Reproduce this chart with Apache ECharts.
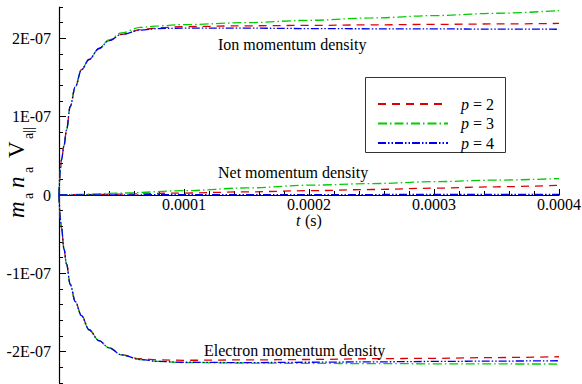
<!DOCTYPE html>
<html>
<head>
<meta charset="utf-8">
<script src="https://cdn.jsdelivr.net/npm/echarts@6/dist/echarts.min.js"></script>
<style>
html,body{margin:0;padding:0;background:#fff;}
#chart{width:582px;height:384px;}
</style>
</head>
<body>
<div id="chart"></div>
<script>
// ---- data ----
const seriesNames = ['p = 2', 'p = 3', 'p = 4'];
const tCurve = [0, 1e-6, 2e-6, 4e-6, 6e-6, 9e-6, 1.3e-5, 1.8e-5, 2.4e-5, 3.2e-5, 4e-5, 5e-5, 6.5e-5, 8e-5, 1e-4, 1.5e-4, 2e-4, 2.5e-4, 3e-4, 3.5e-4, 4e-4];
const ionP2 = [0, 0.32e-7, 0.45e-7, 0.63e-7, 0.83e-7, 1.13e-7, 1.38e-7, 1.60e-7, 1.73e-7, 1.87e-7, 1.97e-7, 2.05e-7, 2.11e-7, 2.135e-7, 2.15e-7, 2.16e-7, 2.165e-7, 2.172e-7, 2.178e-7, 2.184e-7, 2.19e-7];
const ionP3 = [0, 0.32e-7, 0.45e-7, 0.63e-7, 0.83e-7, 1.13e-7, 1.38e-7, 1.60e-7, 1.73e-7, 1.87e-7, 1.98e-7, 2.07e-7, 2.14e-7, 2.16e-7, 2.175e-7, 2.20e-7, 2.23e-7, 2.26e-7, 2.29e-7, 2.32e-7, 2.355e-7];
const ionP4 = [0, 0.32e-7, 0.45e-7, 0.63e-7, 0.83e-7, 1.13e-7, 1.38e-7, 1.60e-7, 1.73e-7, 1.87e-7, 1.97e-7, 2.05e-7, 2.105e-7, 2.125e-7, 2.13e-7, 2.13e-7, 2.125e-7, 2.122e-7, 2.12e-7, 2.118e-7, 2.116e-7];
const elecP2 = [0, -0.30e-7, -0.42e-7, -0.69e-7, -0.88e-7, -1.14e-7, -1.36e-7, -1.54e-7, -1.72e-7, -1.86e-7, -1.95e-7, -2.04e-7, -2.09e-7, -2.105e-7, -2.11e-7, -2.105e-7, -2.10e-7, -2.09e-7, -2.085e-7, -2.075e-7, -2.065e-7];
const elecP3 = [0, -0.30e-7, -0.42e-7, -0.69e-7, -0.88e-7, -1.14e-7, -1.36e-7, -1.54e-7, -1.72e-7, -1.86e-7, -1.95e-7, -2.04e-7, -2.10e-7, -2.125e-7, -2.14e-7, -2.145e-7, -2.15e-7, -2.152e-7, -2.155e-7, -2.157e-7, -2.158e-7];
const elecP4 = [0, -0.30e-7, -0.42e-7, -0.69e-7, -0.88e-7, -1.14e-7, -1.36e-7, -1.54e-7, -1.72e-7, -1.86e-7, -1.95e-7, -2.04e-7, -2.10e-7, -2.125e-7, -2.135e-7, -2.14e-7, -2.135e-7, -2.13e-7, -2.125e-7, -2.12e-7, -2.116e-7];
const tNet = [0, 2e-5, 5e-5, 1e-4, 1.5e-4, 2e-4, 2.5e-4, 3e-4, 3.5e-4, 4e-4];
const netP2 = [0, 0.005e-7, 0.012e-7, 0.025e-7, 0.04e-7, 0.055e-7, 0.07e-7, 0.087e-7, 0.105e-7, 0.124e-7];
const netP3 = [0, 0.01e-7, 0.025e-7, 0.055e-7, 0.09e-7, 0.125e-7, 0.145e-7, 0.17e-7, 0.19e-7, 0.21e-7];
const netP4 = [0, 0, 0.002e-7, 0.005e-7, 0.005e-7, 0.005e-7, 0.006e-7, 0.007e-7, 0.008e-7, 0.008e-7];
const yMajorTicks = [-2e-7, -1e-7, 0, 1e-7, 2e-7];
const annotations = ['Ion momentum density', 'Net momentum density', 'Electron momentum density'];

// ---- styles ----
const FONT = 'Liberation Serif';
const colors = ['#dd0000', '#00cc00', '#0000ee'];
const dashes = [[8, 6], [9, 3, 1.5, 3], [8, 2, 1.5, 2, 1.5, 2]];
const GRID_TOP = 7, GRID_BOTTOM = 1, H = 384;
const richS = { s: { fontFamily: FONT, fontSize: 16, color: '#000', lineHeight: 14 },
                i: { fontFamily: FONT, fontSize: 16, fontStyle: 'italic', color: '#000', lineHeight: 14 } };
const richL = { s: { fontFamily: FONT, fontSize: 16, color: '#000' },
                i: { fontFamily: FONT, fontSize: 16, fontStyle: 'italic', color: '#000' } };

function pairs(t, v) { return t.map((x, i) => [x, v[i]]); }
const groups = [
  [ionP2, elecP2, netP2],
  [ionP3, elecP3, netP3],
  [ionP4, elecP4, netP4]
];
const series = [];
groups.forEach((g, k) => {
  [[tCurve, g[0]], [tCurve, g[1]], [tNet, g[2]]].forEach(([t, v]) => {
    series.push({
      type: 'line', name: seriesNames[k], data: pairs(t, v),
      showSymbol: false, symbol: 'none', smooth: 0.35, smoothMonotone: 'x',
      color: colors[k], yAxisIndex: 0,
      lineStyle: { color: colors[k], width: 1.3, type: dashes[k] },
      z: 3 + k
    });
  });
});

function yFmt(v) {
  const k = Math.round(v / 1e-7);
  if (Math.abs(v / 1e-7 - k) > 1e-6) return '';
  if (k === 0) return '{s|0}';
  return '{s|' + k + 'E-07}';
}
// x axis drawn at y = 0 (middle of the symmetric y range)
const xOffset = -(H - GRID_TOP - GRID_BOTTOM) / 2;

const chart = echarts.init(document.getElementById('chart'), null, { renderer: 'svg' });
chart.setOption({
  animation: false,
  backgroundColor: '#fff',
  textStyle: { fontFamily: FONT },
  grid: { left: 59, right: 23, top: GRID_TOP, bottom: GRID_BOTTOM, containLabel: false, outerBoundsMode: 'none' },
  xAxis: {
    type: 'value', min: 0, max: 4e-4, interval: 1e-4,
    position: 'bottom', offset: xOffset,
    axisLine: { onZero: false, lineStyle: { color: '#000', width: 1.2 } },
    axisTick: { show: true, inside: true, length: 6, lineStyle: { color: '#000' } },
    minorTick: { show: true, splitNumber: 5, length: 4, lineStyle: { color: '#000' } },
    splitLine: { show: false },
    axisLabel: {
      margin: 2, color: '#000', fontFamily: FONT, fontSize: 16, rich: richS,
      formatter: v => (v === 0 ? '' : '{s|' + v.toFixed(4) + '}')
    }
  },
  yAxis: [{
    type: 'value', min: -2.4e-7, max: 2.4e-7, interval: 2e-8,
    axisLine: { show: true, onZero: false, lineStyle: { color: '#000', width: 1.2 } },
    axisTick: { show: true, inside: true, length: 4, lineStyle: { color: '#000' } },
    splitLine: { show: false },
    axisLabel: { margin: 8, color: '#000', fontFamily: FONT, fontSize: 16, rich: richS, formatter: yFmt }
  }, {
    type: 'value', min: -2.4e-7, max: 2.4e-7, position: 'left',
    axisLine: { show: false, onZero: false },
    axisTick: { show: true, inside: true, length: 7, customValues: yMajorTicks, lineStyle: { color: '#000' } },
    axisLabel: { show: false },
    splitLine: { show: false }
  }],
  legend: {
    data: seriesNames,
    orient: 'vertical', left: 372, top: 91,
    itemWidth: 70, itemHeight: 14, itemGap: 3.5,
    itemStyle: { opacity: 0, borderWidth: 0 },
    formatter: n => '{i|p}{s|' + n.slice(1) + '}',
    textStyle: {
      color: '#000', fontFamily: FONT, fontSize: 16, padding: [0, 0, 0, 8],
      rich: richL
    }
  },
  graphic: [
    { type: 'rect', z: 1, shape: { x: 365.5, y: 77.5, width: 140, height: 75 },
      style: { fill: '#fff', stroke: '#333', lineWidth: 1 } },
    { type: 'text', z: 10, x: 218, y: 44, style: { text: annotations[0], font: '16px ' + FONT, fill: '#000', verticalAlign: 'middle' } },
    { type: 'text', z: 10, x: 218, y: 172, style: { text: annotations[1], font: '16px ' + FONT, fill: '#000', verticalAlign: 'middle' } },
    { type: 'text', z: 10, x: 204, y: 350, style: { text: annotations[2], font: '16px ' + FONT, fill: '#000', verticalAlign: 'middle' } },
    { type: 'group', x: 296, y: 220, children: [
      { type: 'text', x: 0, y: 0, style: { text: 't', font: 'italic 16px ' + FONT, fill: '#000', verticalAlign: 'middle' } },
      { type: 'text', x: 5, y: 0, style: { text: ' (s)', font: '16px ' + FONT, fill: '#000', verticalAlign: 'middle' } }
    ] },
    { type: 'group', x: 28, y: 218, rotation: Math.PI / 2, children: [
      { type: 'text', x: 0, y: 0, style: { text: 'm', font: 'italic 23px ' + FONT, fill: '#000', verticalAlign: 'bottom' } },
      { type: 'text', x: 19, y: 7, style: { text: 'a', font: '14px ' + FONT, fill: '#000', verticalAlign: 'bottom' } },
      { type: 'text', x: 30, y: 0, style: { text: 'n', font: 'italic 23px ' + FONT, fill: '#000', verticalAlign: 'bottom' } },
      { type: 'text', x: 45, y: 7, style: { text: 'a', font: '14px ' + FONT, fill: '#000', verticalAlign: 'bottom' } },
      { type: 'text', x: 60, y: 0, style: { text: 'V', font: '23px ' + FONT, fill: '#000', verticalAlign: 'bottom' } },
      { type: 'text', x: 79, y: 7, style: { text: 'a||', font: '14px ' + FONT, fill: '#000', verticalAlign: 'bottom' } }
    ] }
  ],
  series: series
});
</script>
</body>
</html>
